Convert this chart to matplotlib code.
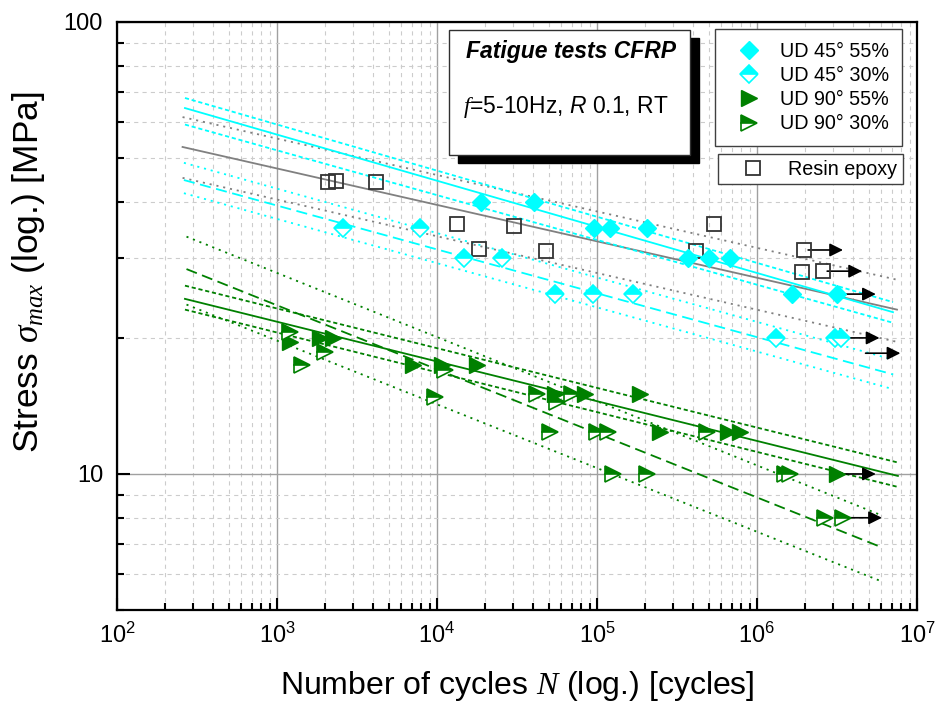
import matplotlib
matplotlib.use("Agg")
import matplotlib.pyplot as plt
from matplotlib.lines import Line2D
from matplotlib.patches import Rectangle
from matplotlib.ticker import LogLocator, NullFormatter, FormatStrFormatter, LogFormatterMathtext

plt.rcParams['font.family'] = ['Liberation Sans', 'DejaVu Sans']
plt.rcParams['mathtext.fontset'] = 'custom'
plt.rcParams['mathtext.rm'] = 'Liberation Sans'
plt.rcParams['mathtext.it'] = 'Liberation Serif:italic'
plt.rcParams['mathtext.cal'] = 'Liberation Sans:italic'
plt.rcParams['lines.scale_dashes'] = False

CYAN = '#00FFFF'
GREEN = '#008000'
GRAY = '#808080'

# measured points (cycles, MPa)
ud45_55_N = [1.88e4, 4.04e4, 9.58e4, 1.21e5, 2.05e5, 3.7e5, 5.0e5, 6.8e5, 1.65e6, 3.16e6]
ud45_55_S = [40, 40, 35, 35, 35, 30, 30, 30, 25, 25]

ud45_30_N = [2.58e3, 7.83e3, 1.47e4, 2.55e4, 5.47e4, 9.44e4, 1.68e5, 1.31e6, 3.07e6, 3.33e6]
ud45_30_S = [35, 35, 30, 30, 25, 25, 25, 20, 20, 20]

ud90_55_N = [1.21e3, 1.86e3, 2.24e3, 7.08e3, 1.07e4, 1.78e4, 5.47e4, 8.41e4, 1.86e5,
             2.48e5, 6.59e5, 7.83e5, 3.16e6]
ud90_55_S = [19.6, 20, 20, 17.4, 17.4, 17.4, 15, 15, 15, 12.4, 12.4, 12.4, 10]

ud90_30_N = [1.21e3, 1.43e3, 2.0e3, 9.7e3, 1.12e4, 4.22e4, 5.62e4, 6.98e4, 5.08e4, 1.0e5,
             1.17e5, 4.87e5, 1.26e5, 2.05e5, 1.5e6, 1.61e6, 2.66e6, 3.45e6]
ud90_30_S = [20.6, 17.4, 18.6, 14.8, 17.0, 15, 14.4, 15, 12.4, 12.4,
             12.4, 12.4, 10, 10, 10, 10, 8, 8]

resin_N = [2.08e3, 2.34e3, 4.16e3, 1.33e4, 1.83e4, 3.03e4, 4.8e4, 4.15e5, 5.39e5, 1.91e6, 1.97e6, 2.59e6]
resin_S = [44.3, 44.5, 44.3, 35.7, 31.5, 35.3, 31.2, 31.2, 35.7, 28.0, 31.3, 28.1]

# run-outs (arrow start)
runout_N = [1.97e6, 2.59e6, 3.16e6, 3.33e6, 4.5e6, 3.16e6, 3.45e6]
runout_S = [31.3, 28.1, 25, 20, 18.5, 10, 8]

# fitted lines: start/end (N), start/end (S)
fit_45_55 = {'N': [266, 7.08e6], 'mean': [64.5, 22.8], 'up': [67.9, 24.0], 'lo': [59.3, 21.6]}
fit_45_30 = {'N': [262, 7.1e6], 'mean': [44.7, 16.6], 'up': [48.8, 17.9], 'lo': [41.8, 15.4]}
fit_resin = {'N': [257, 7.5e6], 'mean': [52.9, 23.1], 'up': [61.6, 26.9], 'lo': [45.2, 19.6]}
fit_90_55 = {'N': [266, 7.6e6], 'mean': [24.4, 9.9], 'up': [26.1, 10.6], 'lo': [23.1, 9.36]}
fit_90_30 = {'N': [272, 5.9e6], 'mean': [28.4, 6.9], 'up': [33.5, 8.12], 'lo': [23.7, 5.8]}

fig = plt.figure(figsize=(9.38, 7.09), dpi=100)
ax = fig.add_axes([0.1247, 0.1396, 0.8529, 0.8294])
ax.set_xscale('log')
ax.set_yscale('log')
ax.set_xlim(1e2, 1e7)
ax.set_ylim(5, 100)

short_dash = (0, (3, 2))
long_dash = (0, (8, 4))
dotted = (0, (1.5, 3.5))

def draw_fit(fit, color, mean_ls, ci_ls):
    ax.plot(fit['N'], fit['mean'], color=color, lw=1.3, ls=mean_ls, zorder=2)
    ax.plot(fit['N'], fit['up'], color=color, lw=1.3, ls=ci_ls, zorder=2)
    ax.plot(fit['N'], fit['lo'], color=color, lw=1.3, ls=ci_ls, zorder=2)

draw_fit(fit_resin, GRAY, '-', dotted)
draw_fit(fit_45_55, CYAN, '-', short_dash)
draw_fit(fit_45_30, CYAN, long_dash, dotted)
draw_fit(fit_90_55, GREEN, '-', short_dash)
draw_fit(fit_90_30, GREEN, long_dash, dotted)

for n, s in zip(runout_N, runout_S):
    ax.annotate('', xy=(n * 1.75, s), xytext=(n * 1.06, s),
                arrowprops=dict(arrowstyle='-|>', color='black', lw=1.2,
                                mutation_scale=20, shrinkA=0, shrinkB=0), zorder=3)

ax.plot(resin_N, resin_S, ls='none', marker='s', ms=10, mfc='none', mec='#333333', mew=1.3, zorder=4)
ax.plot(ud45_55_N, ud45_55_S, ls='none', marker='D', ms=9, mfc=CYAN, mec=CYAN, zorder=4)
ax.plot(ud45_30_N, ud45_30_S, ls='none', marker='D', ms=9, mfc=CYAN, mec=CYAN,
        fillstyle='top', markerfacecoloralt='white', mew=1.2, zorder=4)
ax.plot(ud90_55_N, ud90_55_S, ls='none', marker='>', ms=12, mfc=GREEN, mec=GREEN, zorder=4)
ax.plot(ud90_30_N, ud90_30_S, ls='none', marker='>', ms=12, mfc=GREEN, mec=GREEN,
        fillstyle='top', markerfacecoloralt='white', mew=1.2, zorder=4)

# axes styling
for sp in ax.spines.values():
    sp.set_linewidth(1.6)
ax.xaxis.set_major_locator(LogLocator(base=10))
ax.xaxis.set_minor_locator(LogLocator(base=10, subs=range(2, 10)))
ax.xaxis.set_major_formatter(LogFormatterMathtext())
ax.xaxis.set_minor_formatter(NullFormatter())
ax.yaxis.set_major_locator(LogLocator(base=10))
ax.yaxis.set_minor_locator(LogLocator(base=10, subs=range(2, 10)))
ax.yaxis.set_major_formatter(FormatStrFormatter('%g'))
ax.yaxis.set_minor_formatter(NullFormatter())
ax.tick_params(which='both', direction='in', top=False, right=False, width=1.5)
ax.tick_params(which='major', length=9, labelsize=17)
ax.tick_params(which='minor', length=5)
ax.tick_params(axis='x', which='major', pad=9)
ax.tick_params(axis='y', which='major', pad=10)

ax.grid(which='major', color='#a0a0a0', lw=1.0, ls='-')
ax.grid(which='minor', color='#cccccc', lw=0.8, ls=(0, (3, 3)))
ax.set_axisbelow(True)

ax.set_xlabel(r'Number of cycles $N$ (log.) [cycles]', fontsize=23)
ax.set_ylabel(r'Stress $\sigma_{max}$ (log.) [MPa]', fontsize=25.5)
ax.xaxis.set_label_coords(0.5, -0.1)
ax.yaxis.set_label_coords(-0.087, 0.575)

# title box with shadow
bx0, by0, bw, bh = 0.415, 0.774, 0.301, 0.212
ax.add_patch(Rectangle((bx0 + 0.011, by0 - 0.0136), bw, bh, transform=ax.transAxes,
                       facecolor='black', edgecolor='black', zorder=6, clip_on=False))
ax.add_patch(Rectangle((bx0, by0), bw, bh, transform=ax.transAxes,
                       facecolor='white', edgecolor='#303030', lw=1, zorder=7, clip_on=False))
ax.text(0.5675, 0.949, 'Fatigue tests CFRP', transform=ax.transAxes, ha='center', va='center',
        fontsize=16.5, fontweight='bold', fontstyle='italic', zorder=8)
ax.text(0.561, 0.855, r'$f$=5-10Hz, $\mathcal{R}$ 0.1, RT', transform=ax.transAxes,
        ha='center', va='center', fontsize=16.5, zorder=8)

# legends
h1 = [Line2D([], [], ls='none', marker='D', ms=9, mfc=CYAN, mec=CYAN),
      Line2D([], [], ls='none', marker='D', ms=9, mfc=CYAN, mec=CYAN, fillstyle='top',
             markerfacecoloralt='white', mew=1.2),
      Line2D([], [], ls='none', marker='>', ms=12, mfc=GREEN, mec=GREEN),
      Line2D([], [], ls='none', marker='>', ms=12, mfc=GREEN, mec=GREEN, fillstyle='top',
             markerfacecoloralt='white', mew=1.2)]
l1 = ['UD 45° 55%', 'UD 45° 30%', 'UD 90° 55%', 'UD 90° 30%']
leg1 = ax.legend(h1, l1, loc='upper right', bbox_to_anchor=(0.98125, 0.988), borderaxespad=0,
                 fontsize=14.2, handlelength=2.2, handletextpad=0.45, labelspacing=0.26,
                 borderpad=0.66, fancybox=False, framealpha=1, edgecolor='#404040')
leg1.get_frame().set_linewidth(1)
ax.add_artist(leg1)
h2 = [Line2D([], [], ls='none', marker='s', ms=10, mfc='none', mec='#333333', mew=1.3)]
leg2 = ax.legend(h2, ['Resin epoxy'], loc='upper right', bbox_to_anchor=(0.9825, 0.7755),
                 borderaxespad=0, fontsize=14.2, handlelength=3.0, handletextpad=0.3,
                 borderpad=0.28, fancybox=False, framealpha=1, edgecolor='#404040')
leg2.get_frame().set_linewidth(1)

fig.savefig('out.png', dpi=100)
